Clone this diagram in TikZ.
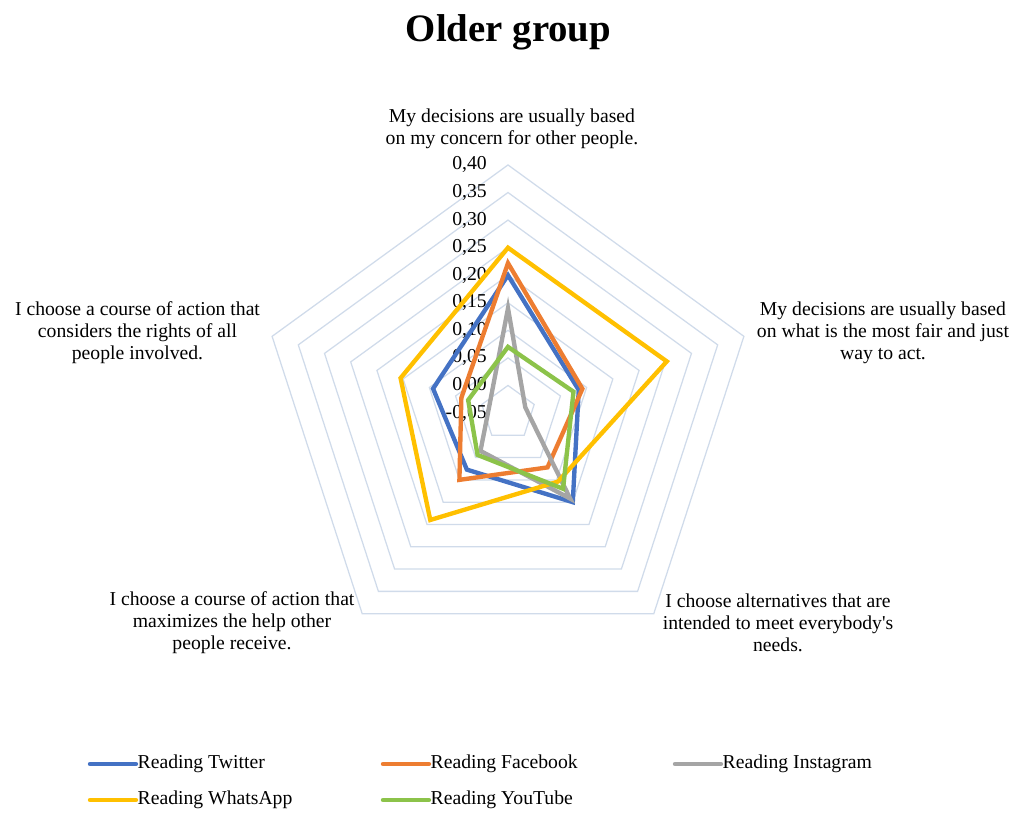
\documentclass[tikz,border=0pt]{standalone}
\usepackage{fontspec}
\setmainfont{Liberation Serif}
\usetikzlibrary{positioning}

\definecolor{gridblue}{RGB}{208,219,234}
\definecolor{twitter}{RGB}{68,114,196}
\definecolor{facebook}{RGB}{237,125,49}
\definecolor{instagram}{RGB}{165,165,165}
\definecolor{whatsapp}{RGB}{255,192,0}
\definecolor{youtube}{RGB}{140,195,74}

\begin{document}
\begin{tikzpicture}[x=0.025cm,y=0.025cm,
  gridline/.style={draw=gridblue, line width=0.9pt},
  series/.style={line width=3.1pt, line join=miter},
  axislabel/.style={align=center, inner sep=0pt, font=\fontsize{14}{15.6}\selectfont},
  ticklabel/.style={anchor=east, inner sep=0pt, font=\fontsize{14}{15.6}\selectfont},
  legtext/.style={anchor=west, inner sep=1pt, font=\fontsize{14}{15.6}\selectfont},
  legline/.style={line width=3.1pt, line cap=round}]
\useasboundingbox (-508,-399) rectangle (506,413);

\node[font=\fontsize{27.6}{30}\selectfont\bfseries] (title) at (0.5,381) {Older group};

% rings, 0.05 each, centre is -0,05
\foreach \k in {1,...,9} {
  \pgfmathsetmacro\rr{\k*27.56}
  \draw[gridline] (90:\rr) -- (18:\rr) -- (-54:\rr) -- (-126:\rr) -- (162:\rr) -- cycle;
}

\foreach \k/\t in {0/-0{,}05, 1/0{,}00, 2/0{,}05, 3/0{,}10, 4/0{,}15, 5/0{,}20, 6/0{,}25, 7/0{,}30, 8/0{,}35, 9/0{,}40}
  \node[ticklabel] (tick\k) at (-21,\k*27.56) {\t};

% one pentagon per series
\foreach \col/\a/\b/\c/\d/\e in {
    twitter/0.20/0.085/0.15/0.077/0.093,
    facebook/0.222/0.092/0.072/0.10/0.039,
    instagram/0.14/-0.017/0.142/0.035/-0.014,
    whatsapp/0.25/0.253/0.104/0.19/0.155,
    youtube/0.07/0.075/0.12/0.044/0.026}
  \draw[series, draw=\col] (90:{(\a+0.05)*551}) -- (18:{(\b+0.05)*551})
    -- (-54:{(\c+0.05)*551}) -- (-126:{(\d+0.05)*551}) -- (162:{(\e+0.05)*551}) -- cycle;

\node[axislabel] (concern) at (4,284) {My decisions are usually based\\on my concern for other people.};
\node[axislabel] (fair) at (375,80) {My decisions are usually based\\on what is the most fair and just\\way to act.};
\node[axislabel] (needs) at (270,-210) {I choose alternatives that are\\intended to meet everybody\textquotesingle s\\needs.};
\node[axislabel] (help) at (-276,-210) {I choose a course of action that\\maximizes the help other\\people receive.};
\node[axislabel] (rights) at (-370.5,80) {I choose a course of action that\\considers the rights of all\\people involved.};

% legend
\node[legtext] (lgTwitter) at (-372,-351) {Reading Twitter};
\node[legtext] (lgFacebook) at (-79,-351) {Reading Facebook};
\node[legtext] (lgInstagram) at (213,-351) {Reading Instagram};
\node[legtext] (lgWhatsApp) at (-372,-387) {Reading WhatsApp};
\node[legtext] (lgYouTube) at (-79,-387) {Reading YouTube};

\draw[legline, twitter] ([xshift=-1.15cm]lgTwitter.west) -- (lgTwitter.west);
\draw[legline, facebook] ([xshift=-1.15cm]lgFacebook.west) -- (lgFacebook.west);
\draw[legline, instagram] ([xshift=-1.15cm]lgInstagram.west) -- (lgInstagram.west);
\draw[legline, whatsapp] ([xshift=-1.15cm]lgWhatsApp.west) -- (lgWhatsApp.west);
\draw[legline, youtube] ([xshift=-1.15cm]lgYouTube.west) -- (lgYouTube.west);
\end{tikzpicture}
\end{document}
